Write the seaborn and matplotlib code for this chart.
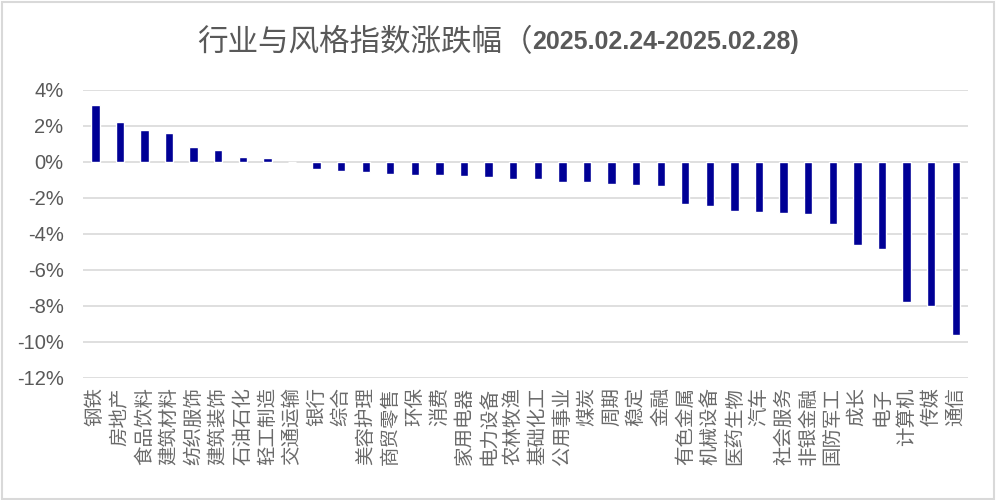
import matplotlib
matplotlib.use("Agg")
import matplotlib.pyplot as plt
import seaborn as sns
import numpy as np
from matplotlib.ticker import FuncFormatter
from matplotlib.patches import Rectangle

# 行业与风格指数周涨跌幅（%）
categories = ["钢铁", "房地产", "食品饮料", "建筑材料", "纺织服饰", "建筑装饰", "石油石化",
              "轻工制造", "交通运输", "银行", "综合", "美容护理", "商贸零售", "环保", "消费",
              "家用电器", "电力设备", "农林牧渔", "基础化工", "公用事业", "煤炭", "周期", "稳定",
              "金融", "有色金属", "机械设备", "医药生物", "汽车", "社会服务", "非银金融",
              "国防军工", "成长", "电子", "计算机", "传媒", "通信"]
values = [3.18, 2.23, 1.77, 1.62, 0.84, 0.67, 0.26, 0.21, -0.03, -0.37, -0.52, -0.57,
          -0.67, -0.70, -0.74, -0.76, -0.85, -0.93, -0.94, -1.09, -1.13, -1.22, -1.31,
          -1.35, -2.35, -2.44, -2.74, -2.76, -2.83, -2.87, -3.44, -4.63, -4.87, -7.81,
          -8.02, -9.65]
y_ticks = [4, 2, 0, -2, -4, -6, -8, -10, -12]

title_cn = "行业与风格指数涨跌幅（"
title_date = "2025.02.24-2025.02.28)"

sns.set_theme(style="white")
plt.rcParams['font.family'] = ['Noto Sans CJK SC', 'DejaVu Sans']

grey_text = "#595959"
bar_color = "#000096"

fig = plt.figure(figsize=(9.97, 5.0), dpi=100)
ax = fig.add_axes([0.0833, 0.2446, 0.8876, 0.5754])

sns.barplot(x=categories, y=values, color=bar_color, width=0.34, saturation=1, ax=ax)

ax.set_ylim(-12, 4)
ax.set_xlim(-0.5, len(categories) - 0.5)
ax.set_yticks(y_ticks)
ax.yaxis.set_major_formatter(FuncFormatter(lambda v, p: f"{v:.0f}%"))
ax.grid(axis="y", color="#D9D9D9", linewidth=1.2)
ax.set_axisbelow(True)
for s in ax.spines.values():
    s.set_visible(False)

ax.tick_params(axis="y", length=0, pad=14, labelsize=14.5, labelcolor=grey_text)
ax.tick_params(axis="x", length=0, pad=7, labelsize=14, labelcolor="#6A6A6A")
for lab in ax.get_yticklabels():
    lab.set_family(['Liberation Sans', 'DejaVu Sans'])
for lab in ax.get_xticklabels():
    lab.set_rotation(90)
    lab.set_fontweight("light")
ax.set_xlabel("")
ax.set_ylabel("")

# 标题：中文常规 + 日期加粗
fig.text(0.534, 0.915, title_cn, ha="right", va="center", fontsize=22, color=grey_text,
         fontweight="light")
fig.text(0.534, 0.915, title_date, ha="left", va="center", fontsize=18, fontweight="bold",
         color=grey_text, family=['Liberation Sans', 'DejaVu Sans'])

# 图表外框
fig.patches.append(Rectangle((0.002, 0.002), 0.995, 0.995, transform=fig.transFigure,
                             fill=False, edgecolor="#D9D9D9", linewidth=1.5))

fig.savefig("out.png", dpi=100)
